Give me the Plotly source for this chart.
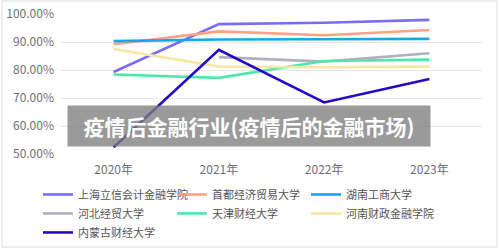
import plotly.graph_objects as go

years = ["2020年", "2021年", "2022年", "2023年"]
names = ["上海立信会计金融学院", "首都经济贸易大学", "湖南工商大学",
         "河北经贸大学", "天津财经大学", "河南财政金融学院", "内蒙古财经大学"]
v_shlx = [79.3, 96.4, 96.9, 97.9]
v_sdjm = [89.2, 93.8, 92.4, 94.3]
v_hngs = [90.3, 90.9, 91.0, 91.1]
v_hbjm = [None, 84.6, 83.0, 86.0]
v_tjcj = [78.4, 77.2, 83.2, 83.7]
v_hncz = [87.5, 81.2, 81.0, 81.2]
v_nmg = [52.4, 87.2, 68.4, 76.8]
series = [v_shlx, v_sdjm, v_hngs, v_hbjm, v_tjcj, v_hncz, v_nmg]
colors = ["#7b6cf6", "#ffa284", "#10aaea", "#b0aec0", "#4de8a8", "#f6e8a2", "#2308c6"]
ytick_vals = [50, 60, 70, 80, 90, 100]
ytick_text = ["50.00%", "60.00%", "70.00%", "80.00%", "90.00%", "100.00%"]
title_text = "疫情后金融行业(疫情后的金融市场)"

fig = go.Figure()
for n, v, c in zip(names, series, colors):
    fig.add_trace(go.Scatter(x=years, y=v, name=n, mode="lines",
                             line=dict(color=c, width=2.6), connectgaps=False))

font_family = "Noto Sans CJK SC, Noto Sans, sans-serif"
PW, PH = 421, 140
fig.update_layout(
    width=500, height=251,
    margin=dict(l=61, r=18, t=14, b=97, autoexpand=False),
    paper_bgcolor="white", plot_bgcolor="white",
    font=dict(family=font_family, size=12, color="#6e7079"),
    xaxis=dict(type="category", showgrid=False, showline=False, ticks="",
               tickfont=dict(size=12, color="#6e7079"), range=[-0.5, 3.5],
               ticklabelstandoff=7, automargin=False),
    yaxis=dict(range=[50, 100], tickvals=ytick_vals, ticktext=ytick_text,
               showgrid=True, gridcolor="#e6e6e6", gridwidth=1, zeroline=False,
               showline=False, ticks="", tickfont=dict(size=12, color="#6e7079"),
               ticklabelstandoff=6, automargin=False),
    showlegend=True,
    legend=dict(orientation="h", xref="container", yref="container",
                x=0.076, y=0.283, xanchor="left", yanchor="top",
                entrywidthmode="pixels", entrywidth=89, itemwidth=30,
                font=dict(size=11, color="#555555"), bgcolor="rgba(0,0,0,0)",
                tracegroupgap=0),
)
fig.add_shape(type="rect", xref="paper", yref="paper",
              x0=-59/PW, x1=(PW+15)/PW, y0=-(97-4)/PH, y1=(PH+13)/PH,
              line=dict(color="#dddddd", width=1), fillcolor="rgba(0,0,0,0)", layer="below")
fig.add_annotation(text="<b>" + title_text + "</b>", xref="paper", yref="paper",
                   x=(249-61)/PW, y=(154-125.5)/PH, xanchor="center", yanchor="middle",
                   showarrow=False, font=dict(size=21, color="white", family=font_family),
                   bgcolor="rgba(125,125,125,0.78)", borderpad=5, width=352)
fig.write_html("out.html")
